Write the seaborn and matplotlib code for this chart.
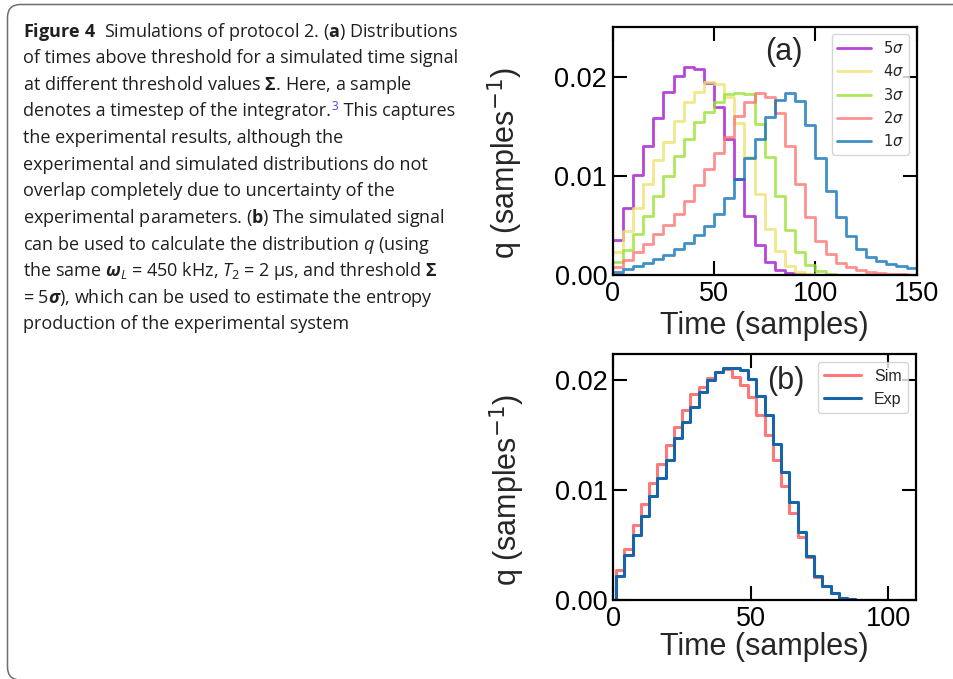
import numpy as np
import pandas as pd
import matplotlib
matplotlib.use("Agg")
import matplotlib.pyplot as plt
import seaborn as sns
from matplotlib.patches import FancyBboxPatch
from matplotlib.transforms import IdentityTransform

# ---------------- data: panel (a) ----------------
bin_width_a = 5
time_max_a = 150
q_5sigma = [0.0035, 0.0068, 0.0101, 0.0131, 0.0159, 0.0185, 0.0201, 0.0211, 0.0208, 0.0194,
            0.0170, 0.0138, 0.0097, 0.0060, 0.0030, 0.0013, 0.0005, 0.0002, 0.0001, 0.0,
            0.0, 0.0, 0.0, 0.0, 0.0, 0.0, 0.0, 0.0, 0.0, 0.0]
q_4sigma = [0.0023, 0.0045, 0.0068, 0.0092, 0.0116, 0.0135, 0.0156, 0.0175, 0.0185, 0.0195,
            0.0193, 0.0180, 0.0154, 0.0119, 0.0082, 0.0047, 0.0024, 0.0009, 0.0003, 0.0001,
            0.0, 0.0, 0.0, 0.0, 0.0, 0.0, 0.0, 0.0, 0.0, 0.0]
q_3sigma = [0.0013, 0.0025, 0.0041, 0.0060, 0.0080, 0.0100, 0.0120, 0.0138, 0.0155, 0.0165,
            0.0175, 0.0183, 0.0184, 0.0183, 0.0153, 0.0119, 0.0080, 0.0046, 0.0023, 0.0010,
            0.0004, 0.0001, 0.0, 0.0, 0.0, 0.0, 0.0, 0.0, 0.0, 0.0]
q_2sigma = [0.0008, 0.0015, 0.0023, 0.0031, 0.0041, 0.0051, 0.0062, 0.0075, 0.0091, 0.0107,
            0.0123, 0.0140, 0.0161, 0.0175, 0.0184, 0.0180, 0.0164, 0.0131, 0.0092, 0.0059,
            0.0034, 0.0021, 0.0012, 0.0008, 0.0005, 0.0003, 0.0002, 0.0001, 0.0001, 0.0]
q_1sigma = [0.0003, 0.0006, 0.0009, 0.0012, 0.0016, 0.0020, 0.0026, 0.0032, 0.0040, 0.0050,
            0.0062, 0.0078, 0.0097, 0.0118, 0.0138, 0.0160, 0.0177, 0.0184, 0.0176, 0.0152,
            0.0118, 0.0085, 0.0059, 0.0039, 0.0026, 0.0018, 0.0014, 0.0011, 0.0009, 0.0007]
labels_a = [r"$5\sigma$", r"$4\sigma$", r"$3\sigma$", r"$2\sigma$", r"$1\sigma$"]
series_a = [q_5sigma, q_4sigma, q_3sigma, q_2sigma, q_1sigma]
colors_a = ["#a616ce", "#efe26f", "#9ae233", "#ff7474", "#1074ba"]

# ---------------- data: panel (b) ----------------
bin_width_b = 3
bin_start_b = 1
q_sim = [0.0027, 0.0046, 0.0068, 0.0087, 0.0106, 0.0124, 0.0141, 0.0157, 0.0173, 0.0187,
         0.0194, 0.0202, 0.0207, 0.0210, 0.0203, 0.0196, 0.0185, 0.0168, 0.0150, 0.0127,
         0.0104, 0.0079, 0.0057, 0.0039, 0.0021, 0.0013, 0.0006, 0.0002, 0.0001, 0.0,
         0.0, 0.0, 0.0]
q_exp = [0.0022, 0.0041, 0.0059, 0.0076, 0.0095, 0.0111, 0.0127, 0.0147, 0.0162, 0.0176,
         0.0189, 0.0200, 0.0207, 0.0211, 0.0211, 0.0209, 0.0201, 0.0186, 0.0168, 0.0142,
         0.0116, 0.0089, 0.0062, 0.0040, 0.0022, 0.0013, 0.0006, 0.0002, 0.0001, 0.0,
         0.0, 0.0, 0.0]
labels_b = ["Sim", "Exp"]
series_b = [q_sim, q_exp]
colors_b = ["#ff6565", "#1765a8"]
alphas_b = [0.88, 1.0]

xticks_a = [0, 50, 100, 150]
xticks_b = [0, 50, 100]
yticks = [0.00, 0.01, 0.02]

caption_lines = [
    r"$\mathbf{Figure\ 4}$  Simulations of protocol 2. ($\mathbf{a}$) Distributions",
    "of times above threshold for a simulated time signal",
    r"at different threshold values $\mathbf{\Sigma}$. Here, a sample",
    None,
    "the experimental results, although the",
    "experimental and simulated distributions do not",
    "overlap completely due to uncertainty of the",
    r"experimental parameters. ($\mathbf{b}$) The simulated signal",
    r"can be used to calculate the distribution $q$ (using",
    r"the same $\mathbfit{\omega}_{L}$ = 450 kHz, $T_{2}$ = 2 μs, and threshold $\mathbf{\Sigma}$",
    r"= 5$\mathbfit{\sigma}$), which can be used to estimate the entropy",
    "production of the experimental system",
]
line4_parts = ["denotes a timestep of the integrator.", "3", " This captures"]

# ---------------- style ----------------
sns.set_style("ticks")
plt.rcParams["font.family"] = ["Liberation Sans", "DejaVu Sans"]
plt.rcParams["mathtext.fontset"] = "dejavusans"
plt.rcParams["mathtext.rm"] = "Open Sans"
plt.rcParams["mathtext.it"] = "Open Sans:italic"
plt.rcParams["mathtext.bf"] = "Open Sans:bold"
plt.rcParams["mathtext.bfit"] = "Open Sans:italic:bold"

W, H = 954, 679
fig = plt.figure(figsize=(W / 100, H / 100), dpi=100)
fig.patch.set_facecolor("white")


def px_axes(left, top, right, bottom):
    return [left / W, 1 - bottom / H, (right - left) / W, (bottom - top) / H]


ax_a = fig.add_axes(px_axes(612.7, 27, 916.7, 275))
ax_b = fig.add_axes(px_axes(613.3, 354.3, 916.0, 600))

# panel (a) histograms
n_a = len(q_5sigma)
centers_a = bin_width_a * (np.arange(n_a) + 0.5)
for vals, lab, col in zip(series_a, labels_a, colors_a):
    df = pd.DataFrame({"time": centers_a, "q": vals})
    sns.histplot(data=df, x="time", weights="q", binwidth=bin_width_a,
                 binrange=(0, time_max_a), element="step", fill=False,
                 color=col, alpha=0.8, linewidth=2.0, label=lab, ax=ax_a)

# panel (b) histograms (an empty leading bin gives the rising edge at t=1)
n_b = len(q_sim)
centers_b = bin_start_b + bin_width_b * (np.arange(n_b) + 0.5)
for vals, lab, col, al in zip(series_b, labels_b, colors_b, alphas_b):
    df = pd.DataFrame({"time": centers_b, "q": vals})
    sns.histplot(data=df, x="time", weights="q", binwidth=bin_width_b,
                 binrange=(bin_start_b - bin_width_b, bin_start_b + bin_width_b * n_b),
                 element="step", fill=False, alpha=al,
                 color=col, linewidth=2.2, label=lab, ax=ax_b)

for ax, xt, xl, yl in [(ax_a, xticks_a, (0, 150), (0, 0.0251)),
                       (ax_b, xticks_b, (0, 110), (0, 0.02235))]:
    ax.set_xlim(*xl)
    ax.set_ylim(*yl)
    ax.set_xticks(xt)
    ax.set_xticklabels([str(v) for v in xt])
    ax.set_yticks(yticks)
    ax.set_yticklabels([f"{v:.2f}" for v in yticks])
    ax.tick_params(direction="in", length=10, width=1.5, top=True, right=True,
                   labelsize=19.5, pad=4, colors="black")
    for sp in ax.spines.values():
        sp.set_visible(True)
        sp.set_linewidth(1.6)
        sp.set_color("black")
    ax.set_xlabel("Time (samples)", fontsize=22, labelpad=3)
    ax.set_ylabel(r"q (samples$^{-1}$)", fontsize=22)
    ax.set_facecolor("white")

ax_a.yaxis.set_label_coords(-0.288, 0.45)
ax_b.yaxis.set_label_coords(-0.285, 0.45)
ax_b.xaxis.labelpad = 0

ax_a.text(0.563, 0.9, "(a)", transform=ax_a.transAxes, fontsize=22,
          ha="center", va="center")
ax_b.text(0.569, 0.89, "(b)", transform=ax_b.transAxes, fontsize=22,
          ha="center", va="center")

ax_a.legend(loc="upper right", fontsize=10.5, handlelength=2.3, frameon=True,
            edgecolor="0.8", framealpha=0.8)
ax_b.legend(loc="upper right", fontsize=11.5, handlelength=2.3, frameon=True,
            edgecolor="0.8", framealpha=0.8)

# ---------------- caption ----------------
ax0 = fig.add_axes([0, 0, 1, 1], zorder=-1)
ax0.set_xlim(0, W)
ax0.set_ylim(H, 0)
ax0.axis("off")

cap_font = dict(fontsize=13.0, family=["Open Sans", "DejaVu Sans"], color="#1f1f1f")
cap_x = 23
base0 = 36.7
dy = 26.6
for i, line in enumerate(caption_lines):
    yb = base0 + i * dy
    if line is None:
        t1 = ax0.text(cap_x, yb, line4_parts[0], va="baseline", ha="left", **cap_font)
        sup = ax0.annotate(line4_parts[1], xy=(1, 1), xycoords=t1, xytext=(0.4, 1.5),
                           textcoords="offset points", va="top", ha="left",
                           fontsize=8.5, family=["Open Sans", "DejaVu Sans"],
                           color="#4747e0")
        ax0.annotate(line4_parts[2], xy=(1, 0), xycoords=(sup, t1), xytext=(0.3, 0),
                     textcoords="offset points", va="bottom", ha="left", **cap_font)
    else:
        t = ax0.text(cap_x, yb, line, va="baseline", ha="left", **cap_font)
        t.set_math_fontfamily("custom")

border = FancyBboxPatch((7.5, -1), 1000, 675.5,
                        boxstyle="round,pad=0,rounding_size=13",
                        transform=IdentityTransform(), fill=False,
                        edgecolor="#6e6e6e", linewidth=1.1)
fig.add_artist(border)

fig.savefig("out.png", dpi=100)
